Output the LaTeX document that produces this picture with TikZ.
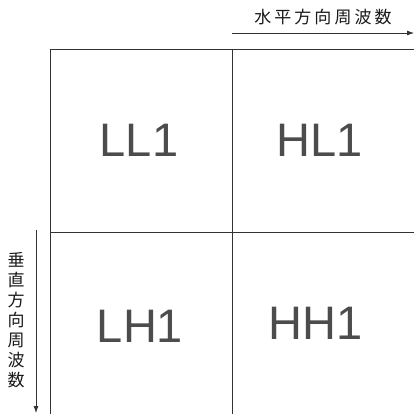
\documentclass[tikz,border=0pt]{standalone}
\usepackage{fontspec}
\setmainfont{Liberation Sans}
\newfontfamily\cjk{Noto Sans CJK JP}
\usetikzlibrary{arrows.meta}
\begin{document}
\begin{tikzpicture}[x=1pt,y=-1pt,
  gridline/.style={draw=black!80,line width=0.9pt},
  axisarrow/.style={draw=black!80,line width=0.8pt,-{Latex[length=7pt,width=5pt]}},
  band/.style={font=\fontsize{47}{47}\selectfont,text=black!70,inner sep=0pt},
  axislabel/.style={font=\cjk\fontsize{17}{17}\selectfont,text=black!90,inner sep=0pt}]
\useasboundingbox (0,0) rectangle (414,414);
\fill[white] (0,0) rectangle (414,414);
% grid
\coordinate (tl) at (50,49);
\coordinate (tr) at (414,49);
\coordinate (bl) at (50,414);
\coordinate (tm) at (232,49);
\coordinate (bm) at (232,414);
\coordinate (ml) at (50,232);
\coordinate (mr) at (414,232);
\draw[gridline] (tr) -- (tl) -- (bl);
\draw[gridline] (tm) -- (bm);
\draw[gridline] (ml) -- (mr);
% band labels
\node[band] (LL) at (139,140) {LL1};
\node[band] (HL) at (320,140) {HL1};
\node[band] (LH) at (140,326) {LH1};
\node[band] (HH) at (316,323) {HH1};
% horizontal axis
\coordinate (hs) at (232,33);
\coordinate (he) at (414,33);
\draw[axisarrow] (hs) -- (he);
\node[axislabel] (hlab) at (323,17) {\addfontfeature{LetterSpace=18}水平方向周波数};
% vertical axis
\coordinate (vs) at (36,230);
\coordinate (ve) at (36,413);
\draw[axisarrow] (vs) -- (ve);
\node[axislabel,align=center,font=\cjk\fontsize{17}{20}\selectfont] (vlab) at (16,320) {垂\\直\\方\\向\\周\\波\\数};
\end{tikzpicture}
\end{document}
